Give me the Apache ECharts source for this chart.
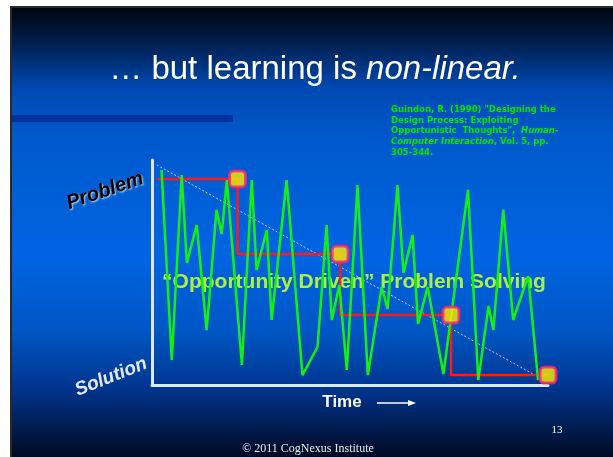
<!DOCTYPE html>
<html><head><meta charset="utf-8">
<script src="https://cdn.jsdelivr.net/npm/echarts@6/dist/echarts.min.js"></script>
<style>html,body{margin:0;padding:0;background:#fff;}#c{width:613px;height:457px;}</style>
</head><body><div id="c"></div>
<script>
// Time axis 0..100, Problem(100) .. Solution(0)
var greenTime = [2.4,5.0,7.5,8.8,11.3,13.8,16.3,17.6,18.9,22.7,25.2,26.4,29.0,30.2,34.0,38.0,41.8,44.1,45.4,47.3,49.2,51.9,54.5,58.0,59.5,62.0,63.5,65.8,67.2,69.6,73.6,79.8,82.4,85.0,86.2,88.7,91.2,95.0,97.5];
var greenValue = [95.6,11.1,93.3,54.2,71.1,24.4,77.8,67.1,91.1,8.9,91.1,51.1,68.9,28.9,91.1,4.4,16.9,71.1,28.9,44.4,6.7,88.9,4.4,43.6,33.8,88.9,49.8,66.7,27.1,43.6,4.9,86.7,2.2,35.1,24.4,77.8,28.9,48.4,2.2];
var stepTime = [1.2,21.6,47.5,75.5,100];
var stepValue = [91.6,58.2,31.1,4.4,4.4];
var milestoneTime = [21.6,47.5,75.5,100];
var milestoneValue = [91.6,58.2,31.1,4.4];
var diagTime = [1.2,97.5];
var diagValue = [97.8,3.6];

function zip(a,b){return a.map(function(v,i){return [v,b[i]];});}

var chart = echarts.init(document.getElementById('c'));
var cg = {fill:'#00e600',textShadowColor:'rgba(0,0,0,0.8)',textShadowOffsetX:1,textShadowOffsetY:1};
function cs(font){return Object.assign({font:font},cg);}
chart.setOption({
  animation:false,
  backgroundColor:'#ffffff',
  grid:{left:152,right:65,top:160,bottom:72},
  xAxis:{type:'value',min:0,max:100,axisLine:{show:true,lineStyle:{color:'#d6ebff',width:3}},axisTick:{show:false},axisLabel:{show:false},splitLine:{show:false}},
  yAxis:{type:'value',min:0,max:100,axisLine:{show:true,lineStyle:{color:'#d6ebff',width:3}},axisTick:{show:false},axisLabel:{show:false},splitLine:{show:false}},
  graphic:[
    {type:'rect',z:-10,shape:{x:10,y:6,width:603,height:451},style:{fill:'#2a2a2a'}},
    {type:'rect',z:-9,shape:{x:12,y:8,width:601,height:449},style:{fill:new echarts.graphic.LinearGradient(0,0,0,1,[
      {offset:0,color:'#00060f'},{offset:0.07,color:'#001c48'},{offset:0.18,color:'#004ab4'},{offset:0.3,color:'#005acc'},{offset:0.55,color:'#0064e2'},{offset:0.72,color:'#0056c4'},{offset:0.85,color:'#00348c'},{offset:1,color:'#000a22'}])}},
    {type:'rect',z:-8,shape:{x:12,y:115,width:221,height:7},style:{fill:'#0033a0'}},
    {type:'text',z:1,x:315,y:70,style:{text:'{n|… but learning is }{i|non-linear.}',align:'center',verticalAlign:'middle',fill:'#fffff0',
      rich:{n:{fontFamily:'Liberation Sans',fontSize:33,fill:'#fffff0',textShadowColor:'rgba(0,0,0,0.9)',textShadowOffsetX:2,textShadowOffsetY:2},
            i:{fontFamily:'Liberation Sans',fontSize:33,fontStyle:'italic',fill:'#fffff0',textShadowColor:'rgba(0,0,0,0.9)',textShadowOffsetX:2,textShadowOffsetY:2}}}},
    {type:'group',z:1,children:[
      {type:'text',x:391,y:110,style:Object.assign(cs('bold 8.5px DejaVu Sans'),{text:'Guindon, R. (1990) "Designing the',verticalAlign:'middle'})},
      {type:'text',x:391,y:120.5,style:Object.assign(cs('bold 8.5px DejaVu Sans'),{text:'Design Process: Exploiting',verticalAlign:'middle'})},
      {type:'text',x:391,y:131,style:{text:'{a|Opportunistic  Thoughts",  }{b|Human-}',verticalAlign:'middle',
        rich:{a:cs('bold 8.5px DejaVu Sans'),b:cs('italic bold 8.5px DejaVu Sans')}}},
      {type:'text',x:391,y:142,style:{text:'{b|Computer Interaction}{a|, Vol. 5, pp.}',verticalAlign:'middle',
        rich:{a:cs('bold 8.5px DejaVu Sans'),b:cs('italic bold 8.5px DejaVu Sans')}}},
      {type:'text',x:391,y:152.5,style:Object.assign(cs('bold 8.5px DejaVu Sans'),{text:'305-344.',verticalAlign:'middle'})}
    ]},
    {type:'text',z:1,x:105,y:191,rotation:0.33,style:{text:'Problem',font:'italic bold 20px Liberation Sans',fill:'#000000',align:'center',verticalAlign:'middle',textShadowColor:'rgba(230,230,230,0.9)',textShadowOffsetX:1,textShadowOffsetY:1,textShadowBlur:2}},
    {type:'text',z:1,x:111,y:377,rotation:0.38,style:{text:'Solution',font:'italic bold 19px Liberation Sans',fill:'#e6e6e6',align:'center',verticalAlign:'middle',textShadowColor:'rgba(0,0,0,0.9)',textShadowOffsetX:2,textShadowOffsetY:2}},
    {type:'text',z:1,x:354,y:282,style:{text:'“Opportunity Driven” Problem Solving',font:'bold 21px Liberation Sans',fill:'#acf040',align:'center',verticalAlign:'middle',textShadowColor:'rgba(10,30,0,0.9)',textShadowOffsetX:2,textShadowOffsetY:2}},
    {type:'text',z:1,x:342,y:402,style:{text:'Time',font:'bold 17px Liberation Sans',fill:'#ffffff',align:'center',verticalAlign:'middle',textShadowColor:'rgba(0,0,0,0.9)',textShadowOffsetX:1,textShadowOffsetY:1}},
    {type:'line',z:1,shape:{x1:377,y1:403,x2:410,y2:403},style:{stroke:'#ffffff',lineWidth:1.5}},
    {type:'polygon',z:1,shape:{points:[[408,400],[416,403],[408,406]]},style:{fill:'#ffffff'}},
    {type:'text',z:1,x:557,y:430,style:{text:'13',font:'11px Liberation Serif',fill:'#ffffff',align:'center',verticalAlign:'middle'}},
    {type:'text',z:1,x:308,y:449,style:{text:'© 2011 CogNexus Institute',font:'12px Liberation Serif',fill:'#e8e8e8',align:'center',verticalAlign:'middle'}}
  ],
  series:[
    {type:'line',data:zip(diagTime,diagValue),symbol:'none',lineStyle:{color:'rgba(220,235,255,0.8)',width:1,type:[2,2]},z:3},
    {type:'line',data:zip(stepTime,stepValue),step:'end',symbol:'none',lineStyle:{color:'#ff1a1a',width:2.5},z:4},
    {type:'line',data:zip(greenTime,greenValue),symbol:'none',lineStyle:{color:'#14f014',width:2.5},z:5},
    {type:'scatter',data:zip(milestoneTime,milestoneValue),symbol:'roundRect',symbolSize:16,itemStyle:{color:'#ffee00',borderColor:'#ff1f7a',borderWidth:3},z:6}
  ]
});
</script></body></html>
